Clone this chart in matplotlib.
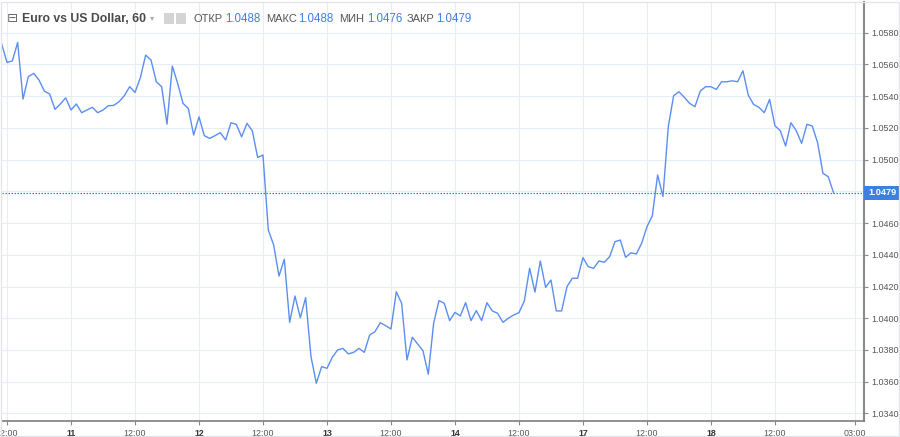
import matplotlib
matplotlib.use("Agg")
import matplotlib.pyplot as plt
from matplotlib.patches import Rectangle

# ---- data: hourly closes, EUR/USD, 60-minute chart ----
first_hour = -1   # bar index of the first close (0 = 12:00 on day 10)
close = [
    1.05729, 1.05613, 1.05622, 1.05739, 1.05382, 1.05523, 1.05544, 1.05502, 1.05432, 1.05414,
    1.05317, 1.05351, 1.05390, 1.05313, 1.05351, 1.05296, 1.05313, 1.05330, 1.05296, 1.05313,
    1.05340, 1.05342, 1.05365, 1.05403, 1.05460, 1.05424, 1.05516, 1.05659, 1.05628, 1.05491,
    1.05460, 1.05224, 1.05590, 1.05481, 1.05355, 1.05323, 1.05155, 1.05270, 1.05151, 1.05134,
    1.05151, 1.05170, 1.05124, 1.05233, 1.05222, 1.05144, 1.05229, 1.05182, 1.05014, 1.05029,
    1.04556, 1.04462, 1.04266, 1.04372, 1.03974, 1.04140, 1.04003, 1.04130, 1.03758, 1.03590,
    1.03695, 1.03684, 1.03754, 1.03800, 1.03810, 1.03775, 1.03785, 1.03810, 1.03785, 1.03894,
    1.03915, 1.03972, 1.03953, 1.03932, 1.04167, 1.04094, 1.03737, 1.03880, 1.03838, 1.03795,
    1.03647, 1.03968, 1.04111, 1.04094, 1.03985, 1.04037, 1.04014, 1.04098, 1.03985, 1.04048,
    1.03985, 1.04098, 1.04046, 1.04031, 1.03974, 1.04000, 1.04020, 1.04035, 1.04108, 1.04315,
    1.04165, 1.04361, 1.04195, 1.04241, 1.04046, 1.04046, 1.04199, 1.04252, 1.04252, 1.04382,
    1.04325, 1.04315, 1.04361, 1.04353, 1.04388, 1.04483, 1.04493, 1.04384, 1.04413, 1.04405,
    1.04472, 1.04577, 1.04645, 1.04903, 1.04768, 1.05207, 1.05403, 1.05428, 1.05393, 1.05355,
    1.05334, 1.05432, 1.05460, 1.05460, 1.05443, 1.05491, 1.05491, 1.05497, 1.05491, 1.05560,
    1.05407, 1.05348, 1.05330, 1.05296, 1.05380, 1.05214, 1.05182, 1.05086, 1.05233, 1.05182,
    1.05103, 1.05223, 1.05212, 1.05107, 1.04914, 1.04892, 1.04790,
]
last_price = 1.0479

x_tick_pos = [0, 12, 24, 36, 48, 60, 72, 84, 96, 108, 120, 132, 144, 159]
x_tick_labels = ["12:00", "11", "12:00", "12", "12:00", "13", "12:00", "14",
                 "12:00", "17", "12:00", "18", "12:00", "03:00"]
day_labels = ["11", "12", "13", "14", "17", "18"]
y_tick_vals = [1.0340, 1.0360, 1.0380, 1.0400, 1.0420, 1.0440, 1.0460,
               1.0480, 1.0500, 1.0520, 1.0540, 1.0560, 1.0580]

title = "Euro vs US Dollar, 60"
ohlc_names = ["ОТКР", "МАКС", "МИН", "ЗАКР"]
ohlc_values = ["1.0488", "1.0488", "1.0476", "1.0479"]

# ---- figure ----
W, H = 900, 437
plt.rcParams['font.family'] = ['Liberation Sans', 'DejaVu Sans']
fig = plt.figure(figsize=(W / 100, H / 100), dpi=100)
fig.patch.set_facecolor("white")

def fx(px):
    return px / W

def fy(py):
    return 1 - py / H

ax = fig.add_axes([fx(2), 16 / H, (864 - 2) / W, (421 - 2) / H])
xs = list(range(first_hour, first_hour + len(close)))
ax.plot(xs, close, color="#5b8ef0", lw=1.0, zorder=3, solid_joinstyle="round")
ax.axhline(last_price, color="#3f7fe0", lw=0.9, ls=(0, (1.2, 1.2)), zorder=2)

ax.set_xlim(-0.9375, 160.7)
ax.set_ylim(1.03352, 1.05994)

ax.set_xticks(x_tick_pos)
ax.set_xticklabels(x_tick_labels)
ax.set_yticks(y_tick_vals)
# the 1.0480 label sits under the last-price marker, so it is not shown
ax.set_yticklabels(["" if abs(v - 1.0480) < 1e-9 else f"{v:.4f}" for v in y_tick_vals])
ax.yaxis.tick_right()
ax.grid(True, color="#e6edf4", lw=0.8, zorder=0)
ax.set_axisbelow(True)

for s in ["left", "top"]:
    ax.spines[s].set_visible(False)
ax.spines["bottom"].set_color("#7d7d7d")
ax.spines["bottom"].set_linewidth(1.2)
ax.spines["right"].set_color("#8a8a8a")
ax.spines["right"].set_linewidth(1.5)

ax.tick_params(axis="y", which="both", direction="out", length=3, width=0.8,
               color="#8a8a8a", labelsize=6.5, labelcolor="#555555", pad=2)
ax.tick_params(axis="x", which="both", direction="out", length=3, width=0.8,
               color="#8a8a8a", labelsize=6.4, labelcolor="#555555", pad=3)
for lbl in ax.get_xticklabels():
    if lbl.get_text() in day_labels:
        lbl.set_fontweight("bold")
        lbl.set_color("#333333")

# price label on the scale
fig.add_artist(Rectangle((fx(864), fy(199.5)), (900 - 864) / W, 13.5 / H,
                         transform=fig.transFigure, facecolor="#3d7fe3",
                         edgecolor="none", zorder=5))
fig.text(fx(882), fy(192.7), f"{last_price:.4f}", color="white", fontsize=6.6,
         fontweight="bold", ha="center", va="center", zorder=6)

# outer light border
fig.add_artist(Rectangle((fx(0.8), fy(435.5)), (899 - 0.8) / W, (435.5 - 2) / H,
                         transform=fig.transFigure, facecolor="none",
                         edgecolor="#e1e4ea", lw=0.9, zorder=7))

# ---- header ----
hy = fy(18.5)
fig.text(fx(6.5), hy, "⊟", family="DejaVu Sans", fontsize=9.5, color="#6a6a6a",
         ha="left", va="center")
fig.text(fx(22.5), hy, title, fontsize=8.8, fontweight="bold", color="#4a4a4a",
         ha="left", va="center")
fig.text(fx(150), fy(18), "▾", family="DejaVu Sans", fontsize=6, color="#aaaaaa",
         ha="left", va="center")
for x0 in (163.5, 175.5):
    fig.add_artist(Rectangle((fx(x0), fy(23.5)), 10.5 / W, 10.5 / H,
                             transform=fig.transFigure, facecolor="#d4d4d4",
                             edgecolor="none"))
name_x = [193, 266, 339, 407]
val_x = [225, 298, 367, 436]
for n, v, nx, vx in zip(ohlc_names, ohlc_values, name_x, val_x):
    fig.text(fx(nx), hy, n, fontsize=8.0, color="#555555", ha="left", va="center")
    fig.text(fx(vx), hy, v, fontsize=8.3, color="#3d7fe3", ha="left", va="center")

fig.savefig("out.png", dpi=100)
